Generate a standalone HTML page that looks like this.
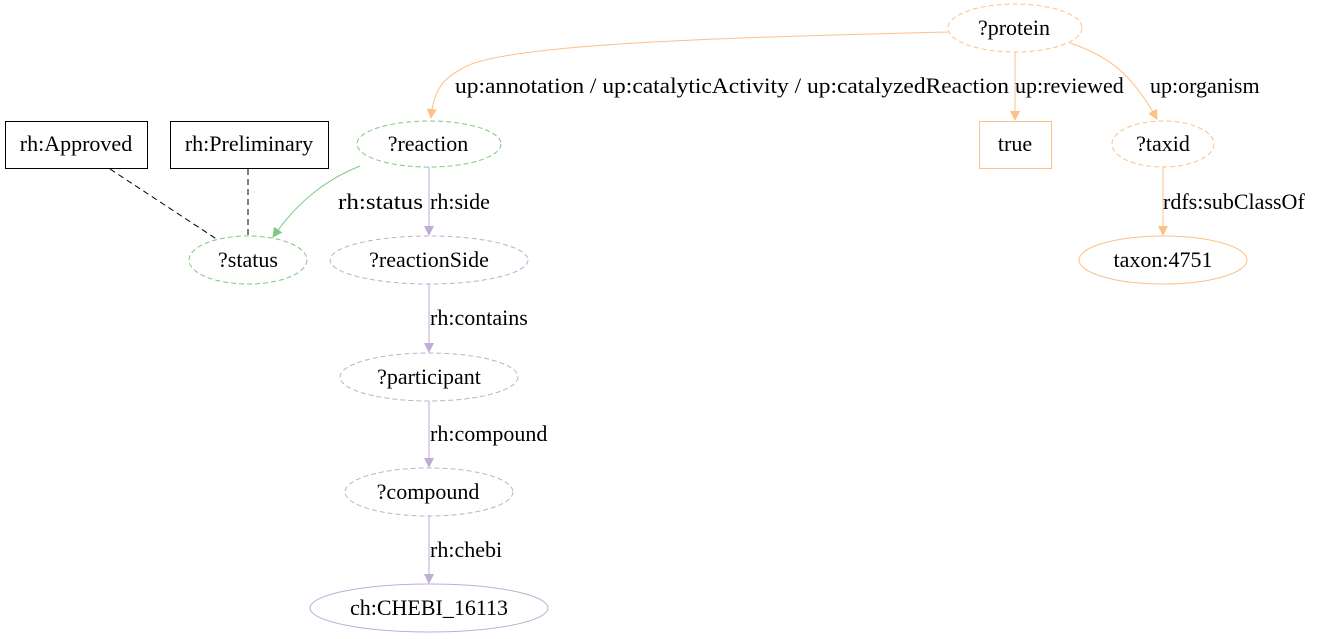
<!DOCTYPE html>
<html><head><meta charset="utf-8"><style>
html,body{margin:0;padding:0;background:#fff;}
svg{display:block;}
text{font-family:"Liberation Serif","DejaVu Serif",serif;font-size:22px;fill:#000;}
</style></head><body>
<svg width="1321" height="639" viewBox="0 0 1321 639" xmlns="http://www.w3.org/2000/svg">
<defs>
<marker id="ao" markerWidth="10" markerHeight="10" refX="9" refY="5" orient="auto" markerUnits="userSpaceOnUse"><path d="M0,0 L10,5 L0,10 z" fill="#fdc086"/></marker>
<marker id="ag" markerWidth="10" markerHeight="10" refX="9" refY="5" orient="auto" markerUnits="userSpaceOnUse"><path d="M0,0 L10,5 L0,10 z" fill="#7fc97f"/></marker>
<marker id="ap" markerWidth="10" markerHeight="10" refX="9" refY="5" orient="auto" markerUnits="userSpaceOnUse"><path d="M0,0 L10,5 L0,10 z" fill="#beaed4"/></marker>
</defs>
<g fill="none" stroke-width="1">
<ellipse cx="1015" cy="28" rx="67" ry="24" stroke="#fdc086" stroke-dasharray="5,3"/>
<ellipse cx="429" cy="144" rx="72" ry="23" stroke="#7fc97f" stroke-dasharray="5,3"/>
<rect x="5.5" y="121.5" width="142" height="47" stroke="#000"/>
<rect x="170.5" y="121.5" width="158" height="47" stroke="#000"/>
<rect x="979.5" y="121.5" width="72" height="47" stroke="#fdc086"/>
<ellipse cx="1163" cy="144" rx="51" ry="23" stroke="#fdc086" stroke-dasharray="5,3"/>
<ellipse cx="248" cy="260" rx="59" ry="24" stroke="#7fc97f" stroke-dasharray="5,3"/>
<ellipse cx="429" cy="260" rx="99" ry="24" stroke="#beaed4" stroke-dasharray="5,3"/>
<ellipse cx="1163" cy="260" rx="84" ry="24" stroke="#fdc086"/>
<ellipse cx="429" cy="377" rx="89" ry="24" stroke="#beaed4" stroke-dasharray="5,3"/>
<ellipse cx="429" cy="492" rx="84" ry="24" stroke="#beaed4" stroke-dasharray="5,3"/>
<ellipse cx="429" cy="608" rx="119" ry="24" stroke="#beaed4"/>
<path d="M948,32 C700,38 490,45 460,70 C440,80 433,95 431,118" stroke="#fdc086" marker-end="url(#ao)"/>
<path d="M1015,52 L1015,120" stroke="#fdc086" marker-end="url(#ao)"/>
<path d="M1070,43 C1115,58 1135,80 1157,119" stroke="#fdc086" marker-end="url(#ao)"/>
<path d="M1163,167 L1163,235" stroke="#fdc086" marker-end="url(#ao)"/>
<path d="M360,166 C330,178 300,198 273,237" stroke="#7fc97f" marker-end="url(#ag)"/>
<path d="M429,167 L429,235" stroke="#beaed4" marker-end="url(#ap)"/>
<path d="M429,284 L429,352" stroke="#beaed4" marker-end="url(#ap)"/>
<path d="M429,401 L429,467" stroke="#beaed4" marker-end="url(#ap)"/>
<path d="M429,516 L429,583" stroke="#beaed4" marker-end="url(#ap)"/>
<path d="M110,169 L218,240" stroke="#000" stroke-dasharray="6,4"/>
<path d="M248,169 L248,236" stroke="#000" stroke-dasharray="6,4"/>
</g>
<g text-anchor="middle">
<text x="1014" y="35">?protein</text>
<text x="428" y="151">?reaction</text>
<text x="76" y="151">rh:Approved</text>
<text x="249" y="151">rh:Preliminary</text>
<text x="1015" y="151">true</text>
<text x="1163" y="151">?taxid</text>
<text x="248" y="267">?status</text>
<text x="429" y="267">?reactionSide</text>
<text x="1163" y="267">taxon:4751</text>
<text x="429" y="384">?participant</text>
<text x="428" y="499">?compound</text>
<text x="429" y="615">ch:CHEBI_16113</text>
</g>
<g text-anchor="start">
<text x="455" y="93" textLength="554" lengthAdjust="spacingAndGlyphs">up:annotation / up:catalyticActivity / up:catalyzedReaction</text>
<text x="1015" y="93">up:reviewed</text>
<text x="1150" y="93">up:organism</text>
<text x="1163" y="209">rdfs:subClassOf</text>
<text x="338" y="209" textLength="85" lengthAdjust="spacingAndGlyphs">rh:status</text>
<text x="430" y="209">rh:side</text>
<text x="430" y="325">rh:contains</text>
<text x="430" y="441">rh:compound</text>
<text x="430" y="557">rh:chebi</text>
</g>
</svg>
</body></html>
